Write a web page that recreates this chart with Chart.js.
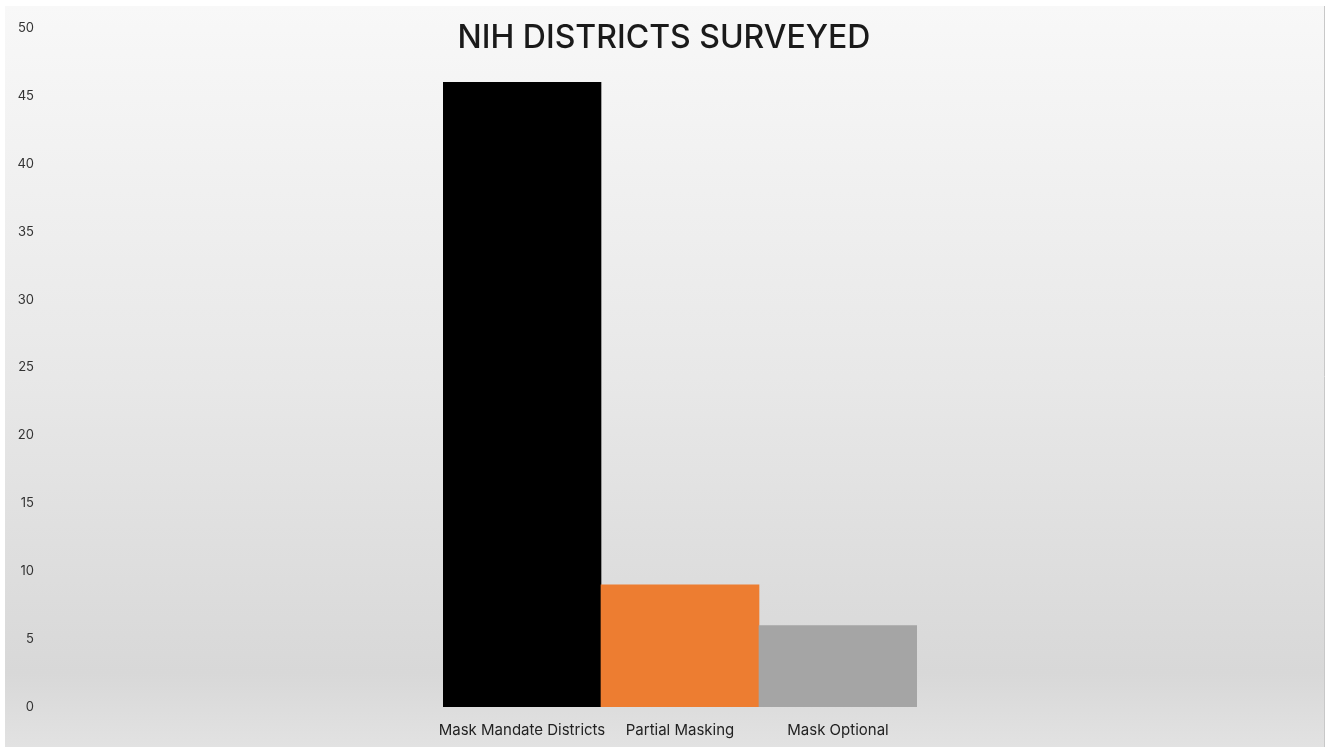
<!DOCTYPE html>
<html>
<head>
<meta charset="utf-8">
<title>NIH Districts Surveyed</title>
<script src="https://cdn.jsdelivr.net/npm/chart.js@4/dist/chart.umd.min.js"></script>
<style>
    html, body { margin: 0; padding: 0; background: #fff; }
    #wrap { position: relative; width: 1326px; height: 747px; }
</style>
</head>
<body>
<div id="wrap"><canvas id="grafico"></canvas></div>
<script>
const TITLE = 'NIH DISTRICTS SURVEYED';
const categories = ['Mask Mandate Districts', 'Partial Masking', 'Mask Optional'];
const values = [46, 9, 6];
const barColors = ['#000000', '#ED7D31', '#A5A5A5'];
const yTicks = [0, 5, 10, 15, 20, 25, 30, 35, 40, 45, 50];

// sfondo del pannello con sfumatura
const panelBg = {
    id: 'panelBg',
    beforeDraw(chart) {
        const ctx = chart.ctx;
        const w = chart.width, h = chart.height;
        ctx.save();
        ctx.fillStyle = '#ffffff';
        ctx.fillRect(0, 0, w, h);
        const g = ctx.createLinearGradient(0, 6, 0, h);
        g.addColorStop(0, '#f8f8f8');
        g.addColorStop(0.5, '#e8e8e8');
        g.addColorStop(0.9, '#d8d8d8');
        g.addColorStop(1, '#e2e2e2');
        ctx.fillStyle = g;
        ctx.fillRect(5, 6, w - 7, h - 6);
        ctx.strokeStyle = '#c8c8c8';
        ctx.lineWidth = 1;
        ctx.beginPath();
        ctx.moveTo(w - 1.5, 6);
        ctx.lineTo(w - 1.5, h);
        ctx.stroke();
        ctx.restore();
    }
};

// titolo sovrapposto all'area del grafico
const overTitle = {
    id: 'overTitle',
    afterDraw(chart) {
        const ctx = chart.ctx;
        ctx.save();
        ctx.font = '500 32px Inter';
        ctx.fillStyle = '#1a1a1a';
        ctx.textAlign = 'center';
        ctx.textBaseline = 'middle';
        ctx.fillText(TITLE, 664, 38);
        ctx.restore();
    }
};

const data = {
    labels: categories,
    datasets: [{
        label: TITLE,
        data: values,
        backgroundColor: barColors,
        borderWidth: 0,
        barPercentage: 1,
        categoryPercentage: 1,
        yAxisID: 'y'
    }]
};

const config = {
    type: 'bar',
    data,
    options: {
        responsive: true,
        maintainAspectRatio: false,
        animation: false,
        layout: { padding: { top: 28, right: 409, bottom: 0, left: 0 } },
        plugins: {
            legend: { display: false },
            tooltip: { enabled: false }
        },
        scales: {
            x: {
                grid: { display: false, drawTicks: false },
                border: { display: false },
                afterFit: (scale) => { scale.height = 40; },
                ticks: {
                    padding: 14,
                    maxRotation: 0,
                    autoSkip: false,
                    color: '#222',
                    font: { family: 'Inter', size: 15 }
                }
            },
            y: {
                position: 'left',
                weight: 10,
                min: 0,
                max: 50,
                grid: { display: false, drawTicks: false },
                border: { display: false },
                afterFit: (scale) => { scale.width = 35; },
                afterBuildTicks: (scale) => { scale.ticks = yTicks.map(v => ({ value: v })); },
                ticks: {
                    padding: 1,
                    color: '#333',
                    font: { family: 'Inter', size: 13 }
                }
            },
            // asse vuoto: solo spazio tra le etichette e le barre
            gap: {
                position: 'left',
                weight: 0,
                min: 0,
                max: 50,
                grid: { display: false, drawTicks: false },
                border: { display: false },
                ticks: { display: false },
                afterFit: (scale) => { scale.width = 408; }
            }
        }
    },
    plugins: [panelBg, overTitle]
};

var chart = new Chart(document.getElementById('grafico'), config);
</script>
</body>
</html>
